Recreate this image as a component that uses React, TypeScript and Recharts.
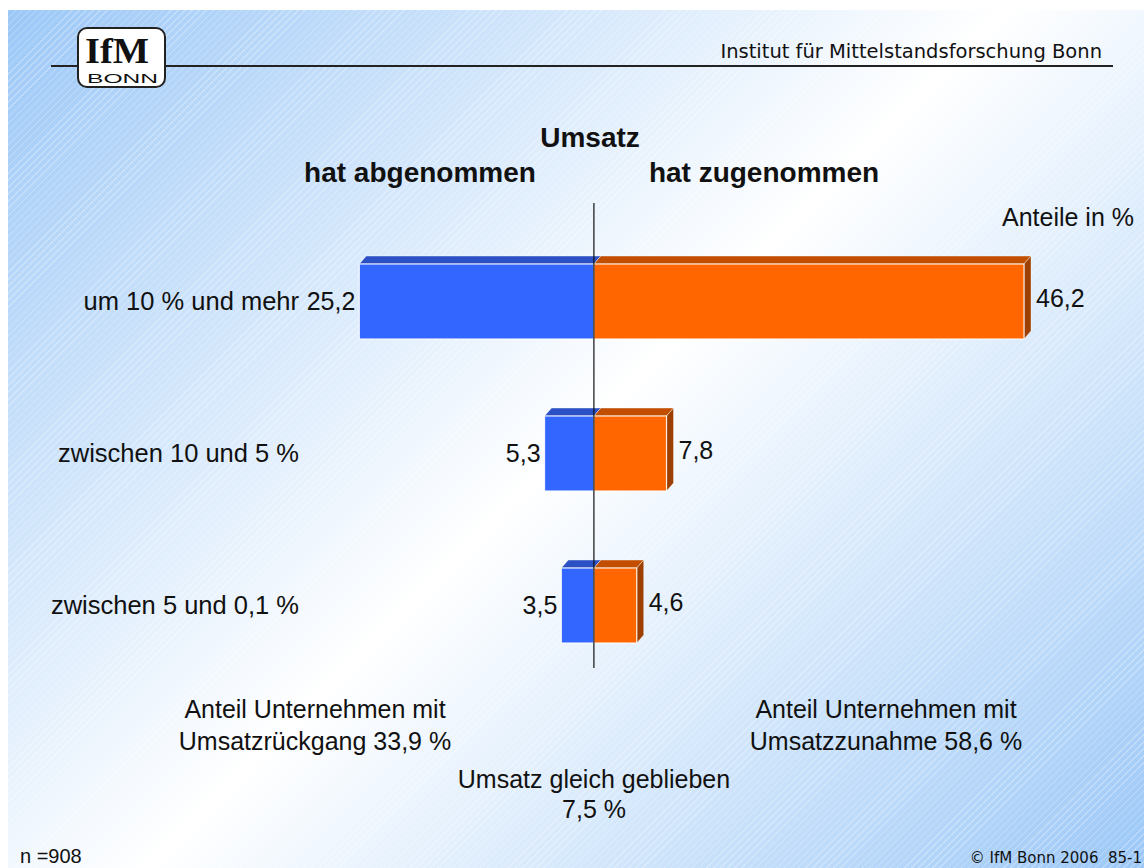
import React from "react"
import { BarChart, Bar, XAxis, YAxis, ReferenceLine, LabelList } from "recharts"

// Umsatzentwicklung: Anteile in %
const categories = ["um 10 % und mehr", "zwischen 10 und 5 %", "zwischen 5 und 0,1 %"]
const decreased = [25.2, 5.3, 3.5]
const increased = [46.2, 7.8, 4.6]

const data = categories.map((name, i) => ({ name, down: -decreased[i], up: increased[i] }))

const FONT = "'Liberation Sans', Arial, sans-serif"
const DEPTH_X = 7
const DEPTH_Y = 8

function fmt(v: number) {
  return Math.abs(v).toFixed(1).replace(".", ",")
}

function Box3D(props: any) {
  const { x, y, width, height, front, top, side, withSide } = props
  const left = Math.min(x, x + width)
  const w = Math.abs(width)
  const r = left + w
  return (
    <g>
      <polygon
        points={`${left},${y} ${left + DEPTH_X},${y - DEPTH_Y} ${r + DEPTH_X},${y - DEPTH_Y} ${r},${y}`}
        fill={top}
        stroke="#ffffff"
        strokeOpacity={0.5}
        strokeWidth={0.8}
      />
      {withSide && (
        <polygon
          points={`${r},${y} ${r + DEPTH_X},${y - DEPTH_Y} ${r + DEPTH_X},${y + height - DEPTH_Y} ${r},${y + height}`}
          fill={side}
          stroke="#ffffff"
          strokeOpacity={0.5}
          strokeWidth={0.8}
        />
      )}
      <rect x={left} y={y} width={w} height={height} fill={front} stroke="#ffffff" strokeOpacity={0.85} strokeWidth={1.2} />
    </g>
  )
}

function DownLabel(props: any) {
  const { x, y, width, height, value } = props
  const left = Math.min(x, x + width)
  return (
    <text x={left - 4} y={y + height / 2 + 8} textAnchor="end" fontFamily={FONT} fontSize={25} fill="#111">
      {fmt(value)}
    </text>
  )
}

function UpLabel(props: any) {
  const { x, y, width, height, value } = props
  const r = Math.max(x, x + width)
  return (
    <text x={r + DEPTH_X + 5} y={y + height / 2 + 5} textAnchor="start" fontFamily={FONT} fontSize={25} fill="#111">
      {fmt(value)}
    </text>
  )
}

function CategoryTick(props: any) {
  const { x, y, payload } = props
  return (
    <text x={x + 3} y={y + 9} textAnchor="end" fontFamily={FONT} fontSize={25.5} fill="#111">
      {payload.value}
    </text>
  )
}

function ZeroLine(props: any) {
  const { x1, y1, x2, y2 } = props
  // Achse reicht oben etwas über die Balken hinaus
  const top = Math.min(y1, y2) - 22
  const bottom = Math.max(y1, y2) - 13
  return <line x1={x1} x2={x2} y1={top} y2={bottom} stroke="#111" strokeWidth={1.2} />
}

function Decoration() {
  return (
    <svg width={1144} height={868} style={{ position: "absolute", left: 0, top: 0 }}>
      {/* Kopfzeile */}
      <line x1={51} x2={1113} y1={66} y2={66} stroke="#222" strokeWidth={2} />
      <rect x={78} y={28} width={87} height={59} rx={9} fill="#fff" stroke="#222" strokeWidth={2} />
      <text x={85} y={63} fontFamily="'Liberation Serif', serif" fontWeight="bold" fontSize={36} textLength={64} lengthAdjust="spacingAndGlyphs" fill="#111">
        IfM
      </text>
      <text x={87} y={83} fontFamily={FONT} fontSize={12} textLength={71} lengthAdjust="spacingAndGlyphs" fill="#111">
        BONN
      </text>
      <text x={1102} y={58} textAnchor="end" fontFamily="'DejaVu Sans', sans-serif" fontSize={19.5} fill="#111">
        Institut für Mittelstandsforschung Bonn
      </text>

      {/* Titel */}
      <g fontFamily={FONT} fontWeight="bold" fontSize={28} fill="#111" textAnchor="middle">
        <text x={590} y={147}>Umsatz</text>
        <text x={420} y={182}>hat abgenommen</text>
        <text x={764} y={182}>hat zugenommen</text>
      </g>

      <g fontFamily={FONT} fontSize={25} fill="#111">
        <text x={1134} y={226} textAnchor="end">Anteile in %</text>
        <text x={315} y={718} textAnchor="middle">Anteil Unternehmen mit</text>
        <text x={315} y={750} textAnchor="middle">Umsatzrückgang 33,9 %</text>
        <text x={886} y={718} textAnchor="middle">Anteil Unternehmen mit</text>
        <text x={886} y={750} textAnchor="middle">Umsatzzunahme 58,6 %</text>
        <text x={594} y={788} textAnchor="middle">Umsatz gleich geblieben</text>
        <text x={594} y={818} textAnchor="middle">7,5 %</text>
        <text x={20} y={863} fontSize={20}>n =908</text>
      </g>
      <text x={1142} y={863} textAnchor="end" fontFamily="'DejaVu Sans', sans-serif" fontSize={15} fill="#111" style={{ whiteSpace: "pre" }}>
        {"© IfM Bonn 2006  85-1"}
      </text>
    </svg>
  )
}

export default function App() {
  return (
    <div style={{ position: "absolute", left: 0, top: 0, width: 1144, height: 868, background: "#fff", overflow: "hidden" }}>
      <div
        style={{
          position: "absolute",
          left: 8,
          top: 10,
          width: 1136,
          height: 858,
          background:
            "repeating-linear-gradient(135deg, rgba(255,255,255,0.28) 0px, rgba(255,255,255,0.28) 1px, rgba(255,255,255,0) 1px, rgba(255,255,255,0) 5px), linear-gradient(135deg, #9cc8f7 0%, #ffffff 50%, #9cc8f7 100%)",
        }}
      />
      <Decoration />
      <div style={{ position: "absolute", left: 0, top: 0 }}>
        <BarChart
          width={1144}
          height={868}
          data={data}
          layout="vertical"
          stackOffset="sign"
          margin={{ top: 225, right: 66, bottom: 187, left: 0 }}
        >
          <XAxis type="number" domain={[-32, 52]} hide allowDataOverflow />
          <YAxis
            type="category"
            dataKey="name"
            width={296}
            axisLine={false}
            tickLine={false}
            tickSize={0}
            tickMargin={0}
            tick={<CategoryTick />}
          />
          <Bar
            dataKey="down"
            stackId="a"
            barSize={75}
            fill="#3366ff"
            isAnimationActive={false}
            shape={(p: any) => <Box3D {...p} front="#3366ff" top="#2b50c4" side="#2040a0" withSide={false} />}
          >
            <LabelList dataKey="down" content={<DownLabel />} />
          </Bar>
          <Bar
            dataKey="up"
            stackId="a"
            barSize={75}
            fill="#ff6600"
            isAnimationActive={false}
            shape={(p: any) => <Box3D {...p} front="#ff6600" top="#c24f00" side="#9c3f00" withSide />}
          >
            <LabelList dataKey="up" content={<UpLabel />} />
          </Bar>
          <ReferenceLine x={0} shape={<ZeroLine />} />
        </BarChart>
      </div>
    </div>
  )
}
